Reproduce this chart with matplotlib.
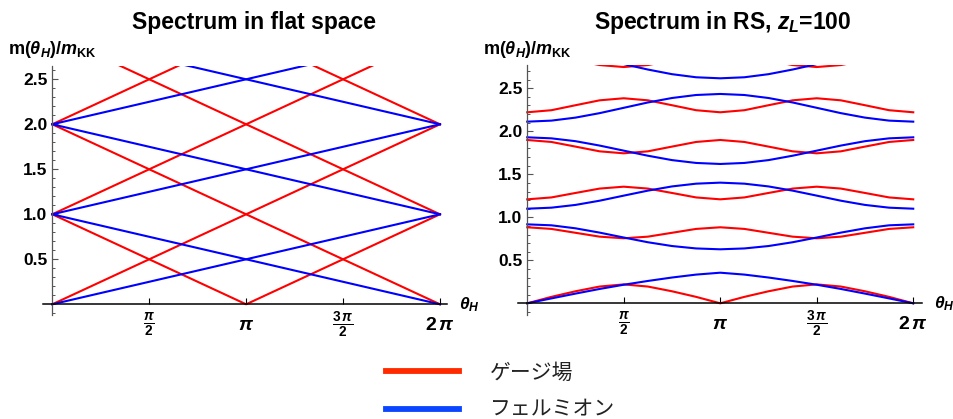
import numpy as np
import matplotlib.pyplot as plt
from matplotlib.lines import Line2D
from matplotlib.ticker import MultipleLocator

# fonts: bold Arial-like, math in bold too
plt.rcParams['font.family'] = ['Liberation Sans', 'DejaVu Sans']
plt.rcParams['mathtext.fontset'] = 'custom'
plt.rcParams['mathtext.rm'] = 'Liberation Sans:bold'
plt.rcParams['mathtext.it'] = 'Liberation Sans:italic:bold'
plt.rcParams['mathtext.bf'] = 'Liberation Sans:bold'

# --- flat space: values at theta = 0, pi, 2pi (straight lines between)
theta_flat = [0, np.pi, 2 * np.pi]
gauge_flat = [
    [0, 1, 2],
    [1, 0, 1],
    [2, 1, 0],
    [1, 2, 3],
    [2, 3, 4],
    [3, 2, 1],
    [4, 3, 2],
]
fermion_flat = [
    [0, 0.5, 1],
    [1, 0.5, 0],
    [1, 1.5, 2],
    [2, 1.5, 1],
    [2, 2.5, 3],
    [3, 2.5, 2],
]

# --- RS, z_L=100: values read at theta = k*pi/8, k = 0..16
theta_rs = np.linspace(0, 2 * np.pi, 17)
gauge_rs = [
    [0, 0.075, 0.14, 0.195, 0.22, 0.195, 0.14, 0.075, 0, 0.075, 0.14, 0.195, 0.22, 0.195, 0.14, 0.075, 0],
    [0.884, 0.865, 0.820, 0.775, 0.756, 0.775, 0.820, 0.865, 0.884, 0.865, 0.820, 0.775, 0.756, 0.775, 0.820, 0.865, 0.884],
    [1.209, 1.231, 1.283, 1.334, 1.356, 1.334, 1.283, 1.231, 1.209, 1.231, 1.283, 1.334, 1.356, 1.334, 1.283, 1.231, 1.209],
    [1.899, 1.876, 1.822, 1.767, 1.744, 1.767, 1.822, 1.876, 1.899, 1.876, 1.822, 1.767, 1.744, 1.767, 1.822, 1.876, 1.899],
    [2.221, 2.245, 2.303, 2.360, 2.384, 2.360, 2.303, 2.245, 2.221, 2.245, 2.303, 2.360, 2.384, 2.360, 2.303, 2.245, 2.221],
    [2.903, 2.880, 2.825, 2.770, 2.747, 2.770, 2.825, 2.880, 2.903, 2.880, 2.825, 2.770, 2.747, 2.770, 2.825, 2.880, 2.903],
]
fermion_rs = [
    [0, 0.057, 0.113, 0.167, 0.216, 0.260, 0.300, 0.334, 0.356, 0.334, 0.300, 0.260, 0.216, 0.167, 0.113, 0.057, 0],
    [0.918, 0.907, 0.872, 0.822, 0.765, 0.710, 0.666, 0.638, 0.628, 0.638, 0.666, 0.710, 0.765, 0.822, 0.872, 0.907, 0.918],
    [1.100, 1.112, 1.144, 1.193, 1.252, 1.310, 1.359, 1.391, 1.403, 1.391, 1.359, 1.310, 1.252, 1.193, 1.144, 1.112, 1.100],
    [1.930, 1.918, 1.885, 1.834, 1.775, 1.716, 1.665, 1.632, 1.620, 1.632, 1.665, 1.716, 1.775, 1.834, 1.885, 1.918, 1.930],
    [2.112, 2.124, 2.159, 2.211, 2.273, 2.335, 2.387, 2.422, 2.434, 2.422, 2.387, 2.335, 2.273, 2.211, 2.159, 2.124, 2.112],
    [2.946, 2.933, 2.898, 2.844, 2.781, 2.718, 2.664, 2.628, 2.616, 2.628, 2.664, 2.718, 2.781, 2.844, 2.898, 2.933, 2.946],
]

xtick_pos = [np.pi / 2, np.pi, 3 * np.pi / 2, 2 * np.pi]
xtick_lab = [r'$\frac{\pi}{2}$', r'$\pi$', r'$\frac{3\,\pi}{2}$', r'$2\,\pi$']
ytick_pos = [0.5, 1.0, 1.5, 2.0, 2.5]
ytick_lab = ['0.5', '1.0', '1.5', '2.0', '2.5']

RED = '#ff0000'
BLUE = '#0000ff'

fig = plt.figure(figsize=(9.54, 4.19), dpi=100)
ax1 = fig.add_axes([0.0451, 0.248, 0.4232, 0.595])
ax2 = fig.add_axes([0.543, 0.2494, 0.4231, 0.5943])


def style(ax, ylim, xright):
    ax.set_xlim(-0.15, xright)
    ax.set_ylim(*ylim)
    ax.spines['top'].set_visible(False)
    ax.spines['right'].set_visible(False)
    ax.spines['left'].set_position(('data', 0))
    ax.spines['bottom'].set_position(('data', 0))
    ax.spines['left'].set_color('#555555')
    ax.spines['bottom'].set_color('black')
    ax.spines['left'].set_linewidth(0.9)
    ax.spines['bottom'].set_linewidth(1.1)
    ax.set_xticks(xtick_pos, labels=xtick_lab, fontsize=14)
    for lbl in ax.get_xticklabels():
        lbl.set_va('center')
    ax.set_yticks(ytick_pos, labels=ytick_lab, fontsize=12.5, fontweight='bold')
    ax.yaxis.set_minor_locator(MultipleLocator(0.1))
    ax.tick_params(axis='x', direction='in', length=4, width=0.8, pad=15)
    ax.tick_params(axis='y', which='major', direction='in', length=4.5, width=0.8, pad=3.5, color='#555555')
    ax.tick_params(axis='y', which='minor', direction='in', length=2.5, width=0.7, color='#555555')
    ax.text(1.03, 0, r'$\theta_H$', transform=ax.get_yaxis_transform(),
            fontsize=12.5, ha='left', va='center')


for vals in gauge_flat:
    ax1.plot(theta_flat, vals, color=RED, lw=1.5)
for vals in fermion_flat:
    ax1.plot(theta_flat, vals, color=BLUE, lw=1.5)

for vals in gauge_rs:
    ax2.plot(theta_rs, vals, color=RED, lw=1.5)
for vals in fermion_rs:
    ax2.plot(theta_rs, vals, color=BLUE, lw=1.5)

style(ax1, (-0.12, 2.65), 2 * np.pi + 0.11)
style(ax2, (-0.13, 2.765), 2 * np.pi + 0.137)

# titles and y labels
fig.text(254 / 954, 1 - 23 / 419, 'Spectrum in flat space', fontsize=16.5,
         fontweight='bold', ha='center', va='center')
fig.text(723 / 954, 1 - 23 / 419, r'Spectrum in RS, $z_L$=100', fontsize=16.5,
         fontweight='bold', ha='center', va='center')
ylab = r'$\mathrm{m(}\theta_H\mathrm{)/}m_{\mathrm{KK}}$'
fig.text(8 / 954, 1 - 50 / 419, ylab, fontsize=13, ha='left', va='center')
fig.text(483 / 954, 1 - 50 / 419, ylab, fontsize=13, ha='left', va='center')

# legend drawn by hand
fig.add_artist(Line2D([386 / 954, 459 / 954], [1 - 371 / 419] * 2,
                      color='#ff2a00', lw=4.2, transform=fig.transFigure))
fig.add_artist(Line2D([386 / 954, 459 / 954], [1 - 408.5 / 419] * 2,
                      color='#0a46ff', lw=4.2, transform=fig.transFigure))
fig.text(490 / 954, 1 - 373 / 419, 'ゲージ場', family=['Noto Sans CJK JP'],
         fontsize=15, color='#222222', va='center')
fig.text(490 / 954, 1 - 408 / 419, 'フェルミオン', family=['Noto Sans CJK JP'],
         fontsize=15, color='#222222', va='center')

fig.savefig('out.png', dpi=100)
